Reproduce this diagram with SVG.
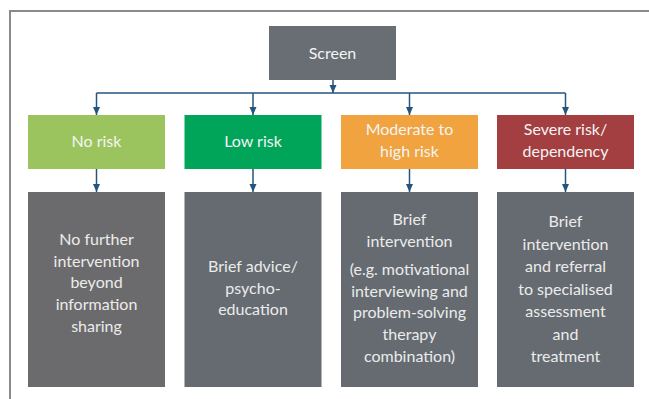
<svg xmlns="http://www.w3.org/2000/svg" width="649" height="399" viewBox="0 0 649 399">
<defs>
<style>
.t{font-family:Lato,"Open Sans","Liberation Sans",sans-serif;font-size:16px;fill:#f4f4f4;text-anchor:middle}
.b{font-family:Lato,"Open Sans","Liberation Sans",sans-serif;font-size:16px;fill:#ebebeb;text-anchor:middle}
.c{fill:none;stroke:#24557f;stroke-width:1.5}
</style>
<marker id="ah" viewBox="0 0 8 8" refX="8" refY="4" markerWidth="8" markerHeight="8" markerUnits="userSpaceOnUse" orient="auto">
<path d="M0,0.5 L8,4 L0,7.5 z" fill="#24557f"/>
</marker>
</defs>
<rect width="649" height="399" fill="#ffffff"/>
<path d="M10,399 V11 H649" fill="none" stroke="#8a8a8a" stroke-width="2"/>
<g id="connectors">
<path class="c" d="M333,80 V93" marker-end="url(#ah)"/>
<path class="c" d="M96.5,93 H565.5"/>
<path class="c" d="M96.5,93 V115" marker-end="url(#ah)"/>
<path class="c" d="M253,93 V115" marker-end="url(#ah)"/>
<path class="c" d="M409.5,93 V115" marker-end="url(#ah)"/>
<path class="c" d="M565.5,93 V115" marker-end="url(#ah)"/>
<path class="c" d="M96.5,169 V192" marker-end="url(#ah)"/>
<path class="c" d="M253,169 V192" marker-end="url(#ah)"/>
<path class="c" d="M409.5,169 V192" marker-end="url(#ah)"/>
<path class="c" d="M565.5,169 V192" marker-end="url(#ah)"/>
</g>
<g id="screen">
<rect x="269" y="26" width="127" height="54" fill="#686e74"/>
<text class="t" x="332.5" y="59">Screen</text>
</g>
<g id="no-risk">
<rect x="28" y="115" width="137" height="54" fill="#9bc45f"/>
<text class="t" x="96.5" y="147">No risk</text>
</g>
<g id="low-risk">
<rect x="184.5" y="115" width="137" height="54" fill="#00a55a"/>
<text class="t" x="253" y="147">Low risk</text>
</g>
<g id="moderate-risk">
<rect x="341" y="115" width="137" height="54" fill="#f0a33f"/>
<text class="t" x="409.5" y="135">Moderate to</text>
<text class="t" x="409.5" y="157">high risk</text>
</g>
<g id="severe-risk">
<rect x="497" y="115" width="137" height="54" fill="#a33e41"/>
<text class="t" x="565.5" y="135">Severe risk/</text>
<text class="t" x="565.5" y="157">dependency</text>
</g>
<g id="no-risk-action">
<rect x="28" y="192" width="137" height="195" fill="#6b6b6d"/>
<text class="b" x="96.5" y="245">No further</text>
<text class="b" x="96.5" y="266.7">intervention</text>
<text class="b" x="96.5" y="288.4">beyond</text>
<text class="b" x="96.5" y="310">information</text>
<text class="b" x="96.5" y="331.7">sharing</text>
</g>
<g id="low-risk-action">
<rect x="184.5" y="192" width="137" height="195" fill="#656b71"/>
<text class="b" x="253" y="272">Brief advice/</text>
<text class="b" x="253" y="293.7">psycho-</text>
<text class="b" x="253" y="315.4">education</text>
</g>
<g id="moderate-risk-action">
<rect x="341" y="192" width="137" height="195" fill="#656b71"/>
<text class="b" x="409.5" y="225">Brief</text>
<text class="b" x="409.5" y="247">intervention</text>
<text class="b" x="409.5" y="275">(e.g. motivational</text>
<text class="b" x="409.5" y="296.7">interviewing and</text>
<text class="b" x="409.5" y="318.4">problem-solving</text>
<text class="b" x="409.5" y="340">therapy</text>
<text class="b" x="409.5" y="361.8">combination)</text>
</g>
<g id="severe-risk-action">
<rect x="497" y="192" width="137" height="195" fill="#656b71"/>
<text class="b" x="565.5" y="227">Brief</text>
<text class="b" x="565.5" y="249.5">intervention</text>
<text class="b" x="565.5" y="272">and referral</text>
<text class="b" x="565.5" y="294.5">to specialised</text>
<text class="b" x="565.5" y="317">assessment</text>
<text class="b" x="565.5" y="339.5">and</text>
<text class="b" x="565.5" y="362">treatment</text>
</g>
</svg>
